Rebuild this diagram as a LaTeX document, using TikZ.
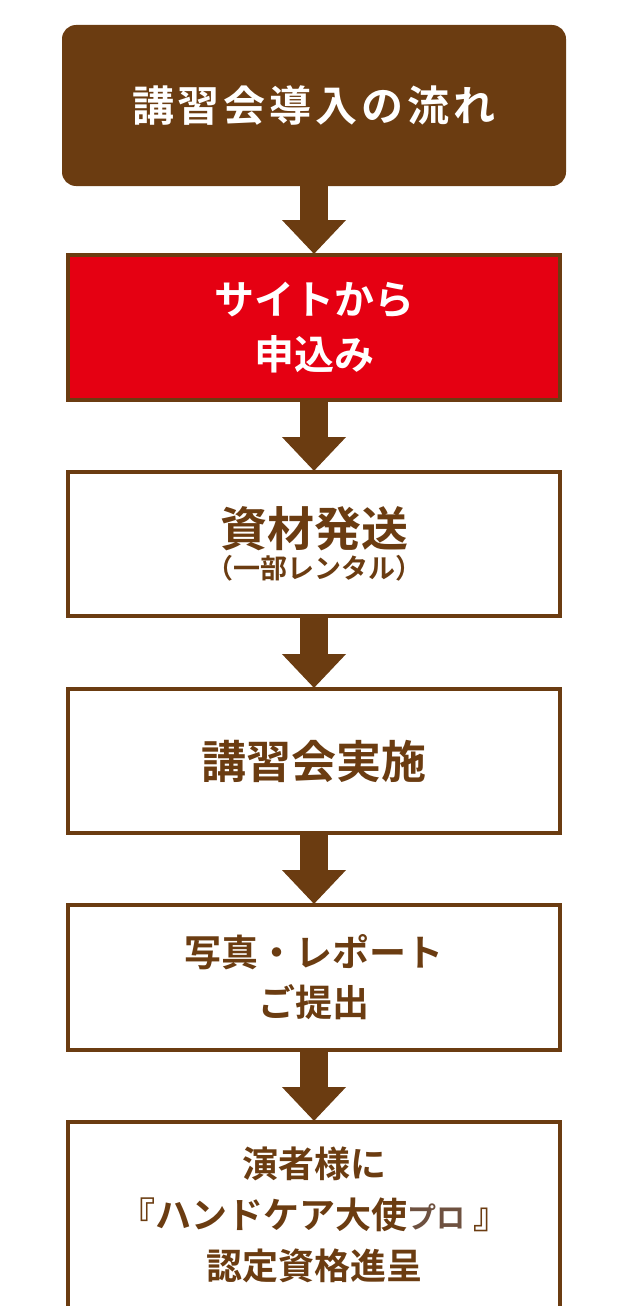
\documentclass[tikz,border=0pt]{standalone}
\usepackage{fontspec}
\newfontfamily\cjk{Noto Sans CJK JP}[BoldFont={Noto Sans CJK JP Bold}]
\usetikzlibrary{arrows.meta}
\definecolor{brn}{HTML}{6B3C11}
\definecolor{gbrn}{HTML}{6E5140}
\definecolor{rd}{HTML}{E50012}
\begin{document}
\begin{tikzpicture}[x=1pt,y=-1pt,
  box/.style={draw=brn,line width=4pt,minimum width=492pt,inner sep=0pt,align=center,font=\cjk\bfseries,text=brn},
  flow/.style={draw=brn,line width=28pt,-{Triangle[width=62pt,length=34pt]},shorten <=-1pt,shorten >=-1pt}]
\useasboundingbox (0,0) rectangle (630,1306);
\node[fill=brn,rounded corners=14pt,minimum width=504pt,minimum height=161pt,text=white,font=\cjk\bfseries\fontsize{42}{46}\selectfont] (t) at (314,105.5) {講\hspace{4pt}習\hspace{4pt}会\hspace{4pt}導\hspace{4pt}入\hspace{4pt}の\hspace{4pt}流\hspace{4pt}れ};
\node[box,fill=rd,text=white,minimum height=145pt,font=\cjk\bfseries\fontsize{40}{55}\selectfont] (b1) at (314,327.5) {サイトから\\申込み};
\node[box,fill=white,minimum height=144pt] (b2) at (314,544) {{\fontsize{47}{50}\selectfont 資材発送}\\[4pt]{\fontsize{27}{30}\selectfont （一部レンタル）}};
\node[box,fill=white,minimum height=144pt,font=\cjk\bfseries\fontsize{45}{48}\selectfont] (b3) at (314,761) {講習会実施};
\node[box,fill=white,minimum height=145pt,font=\cjk\bfseries\fontsize{37}{50}\selectfont] (b4) at (314,977.5) {写真・レポート\\ご提出};
\node[box,fill=white,minimum height=186pt,font=\cjk\bfseries\fontsize{36}{51}\selectfont] (b5) at (314,1215) {演者様に\\『ハンドケア大使{\color{gbrn}\fontsize{29}{51}\selectfont プロ}\hspace{8pt}』\\認定資格進呈};
\draw[flow] (t.south) -- (b1.north);
\draw[flow] (b1.south) -- (b2.north);
\draw[flow] (b2.south) -- (b3.north);
\draw[flow] (b3.south) -- (b4.north);
\draw[flow] (b4.south) -- (b5.north);
\end{tikzpicture}
\end{document}
